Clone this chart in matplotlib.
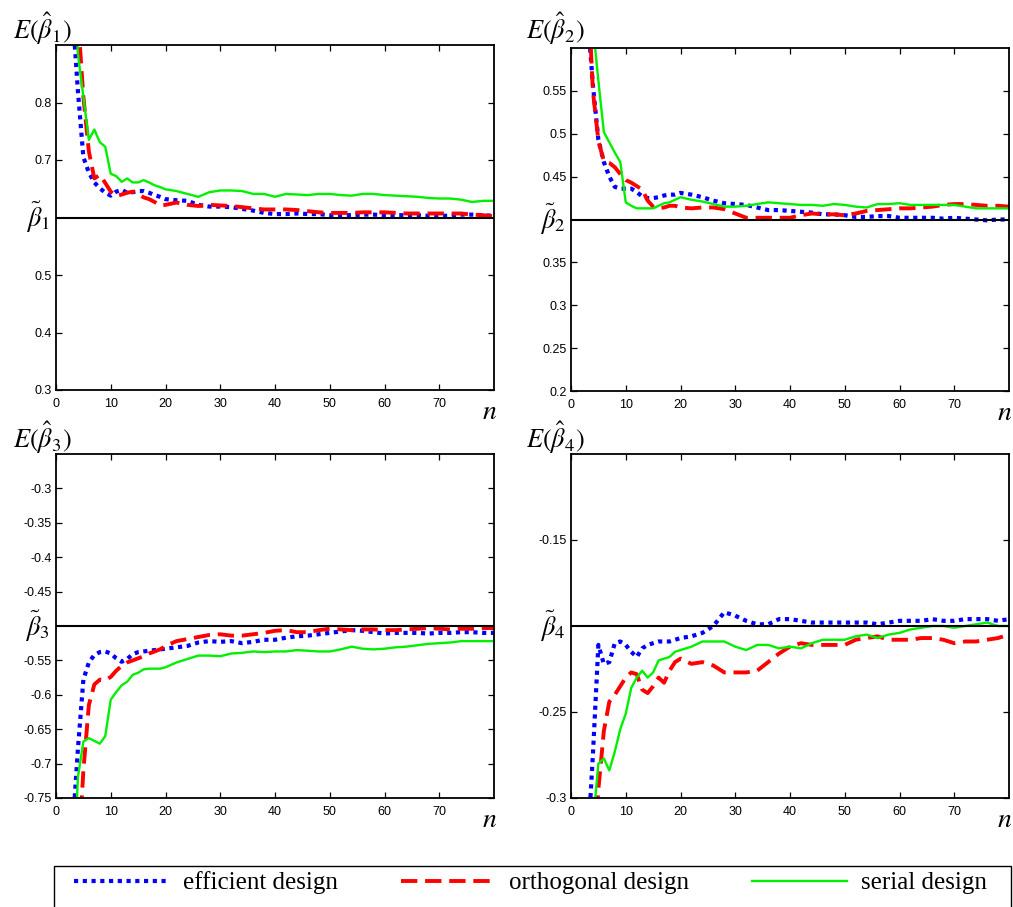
import matplotlib
matplotlib.use("Agg")
import matplotlib.pyplot as plt
from matplotlib.lines import Line2D
from matplotlib.patches import Rectangle
from matplotlib import transforms

plt.rcParams["font.family"] = ["Liberation Sans", "DejaVu Sans"]
plt.rcParams["mathtext.fontset"] = "stix"

# sample sizes n
n = [3, 4, 5, 6, 7, 8, 9, 10, 11, 12, 13, 14, 15, 16, 17, 18, 19, 20,
     22, 24, 26, 28, 30, 32, 34, 36, 38, 40, 42, 44, 46, 48, 50, 52, 54,
     56, 58, 60, 62, 64, 66, 68, 70, 72, 74, 76, 78, 80]

# E(beta_1)
b1_efficient = [0.96, 0.82, 0.705, 0.678, 0.661, 0.651, 0.643, 0.638, 0.645, 0.648, 0.643, 0.644,
                0.646, 0.646, 0.643, 0.639, 0.636, 0.632, 0.630, 0.629, 0.622, 0.619, 0.619, 0.618,
                0.615, 0.612, 0.608, 0.606, 0.606, 0.607, 0.606, 0.606, 0.604, 0.604, 0.604, 0.605,
                0.605, 0.604, 0.604, 0.604, 0.604, 0.603, 0.603, 0.603, 0.605, 0.605, 0.604, 0.603]
b1_orthogonal = [1.2, 0.95, 0.81, 0.715, 0.668, 0.674, 0.660, 0.645, 0.637, 0.640, 0.643, 0.645,
                 0.641, 0.635, 0.632, 0.627, 0.621, 0.622, 0.626, 0.622, 0.620, 0.622, 0.621, 0.620,
                 0.618, 0.616, 0.614, 0.614, 0.614, 0.613, 0.611, 0.609, 0.608, 0.608, 0.608, 0.609,
                 0.609, 0.609, 0.608, 0.607, 0.607, 0.607, 0.607, 0.607, 0.607, 0.605, 0.604, 0.602]
b1_serial = [1.1, 0.885, 0.81, 0.735, 0.753, 0.731, 0.723, 0.676, 0.672, 0.662, 0.668, 0.661,
             0.661, 0.665, 0.661, 0.656, 0.653, 0.649, 0.646, 0.641, 0.636, 0.644, 0.647, 0.647,
             0.646, 0.641, 0.641, 0.636, 0.641, 0.640, 0.639, 0.641, 0.641, 0.639, 0.638, 0.641,
             0.641, 0.639, 0.638, 0.637, 0.636, 0.634, 0.633, 0.633, 0.631, 0.627, 0.629, 0.629]

# E(beta_2)
b2_efficient = [0.64, 0.557, 0.493, 0.467, 0.450, 0.438, 0.436, 0.436, 0.436, 0.432, 0.427, 0.425,
                0.425, 0.426, 0.428, 0.429, 0.429, 0.431, 0.429, 0.426, 0.422, 0.419, 0.418, 0.417,
                0.414, 0.411, 0.411, 0.410, 0.409, 0.408, 0.406, 0.406, 0.405, 0.403, 0.403, 0.404,
                0.404, 0.402, 0.402, 0.402, 0.402, 0.401, 0.402, 0.401, 0.400, 0.399, 0.400, 0.400]
b2_orthogonal = [0.68, 0.55, 0.492, 0.468, 0.466, 0.461, 0.453, 0.446, 0.443, 0.439, 0.435, 0.422,
                 0.415, 0.413, 0.414, 0.416, 0.416, 0.414, 0.413, 0.414, 0.414, 0.412, 0.407, 0.402,
                 0.402, 0.402, 0.402, 0.402, 0.405, 0.407, 0.406, 0.406, 0.405, 0.407, 0.410, 0.411,
                 0.412, 0.413, 0.413, 0.414, 0.415, 0.417, 0.418, 0.418, 0.417, 0.416, 0.416, 0.415]
b2_serial = [0.72, 0.626, 0.562, 0.502, 0.490, 0.478, 0.467, 0.420, 0.416, 0.413, 0.413, 0.413,
             0.413, 0.416, 0.419, 0.420, 0.423, 0.426, 0.423, 0.421, 0.418, 0.415, 0.415, 0.416,
             0.418, 0.420, 0.419, 0.418, 0.417, 0.417, 0.416, 0.418, 0.417, 0.415, 0.414, 0.418,
             0.418, 0.419, 0.417, 0.417, 0.417, 0.417, 0.417, 0.415, 0.413, 0.413, 0.413, 0.413]

# E(beta_3)
b3_efficient = [-0.80, -0.679, -0.578, -0.553, -0.542, -0.538, -0.537, -0.540, -0.547, -0.552, -0.548, -0.541,
                -0.538, -0.537, -0.536, -0.535, -0.534, -0.533, -0.531, -0.529, -0.524, -0.522, -0.523, -0.522,
                -0.525, -0.523, -0.520, -0.520, -0.517, -0.515, -0.514, -0.512, -0.510, -0.508, -0.506, -0.507,
                -0.509, -0.511, -0.510, -0.510, -0.510, -0.511, -0.510, -0.510, -0.509, -0.509, -0.510, -0.510]
b3_orthogonal = [-1.0, -0.85, -0.71, -0.615, -0.585, -0.578, -0.579, -0.574, -0.565, -0.558, -0.553, -0.550,
                 -0.547, -0.544, -0.540, -0.537, -0.534, -0.529, -0.522, -0.519, -0.516, -0.513, -0.512, -0.514,
                 -0.514, -0.512, -0.510, -0.507, -0.506, -0.509, -0.509, -0.506, -0.504, -0.505, -0.506, -0.505,
                 -0.505, -0.506, -0.506, -0.505, -0.504, -0.503, -0.504, -0.505, -0.504, -0.504, -0.503, -0.503]
b3_serial = [-0.90, -0.72, -0.668, -0.663, -0.667, -0.671, -0.660, -0.607, -0.596, -0.586, -0.581, -0.571,
             -0.568, -0.563, -0.562, -0.562, -0.562, -0.560, -0.553, -0.548, -0.543, -0.543, -0.544, -0.540,
             -0.539, -0.537, -0.538, -0.537, -0.537, -0.535, -0.536, -0.537, -0.537, -0.534, -0.530, -0.533,
             -0.534, -0.533, -0.531, -0.530, -0.528, -0.526, -0.525, -0.524, -0.522, -0.522, -0.522, -0.522]

# E(beta_4)
b4_efficient = [-0.33, -0.275, -0.211, -0.222, -0.221, -0.210, -0.209, -0.211, -0.215, -0.218, -0.213, -0.211,
                -0.210, -0.209, -0.209, -0.209, -0.208, -0.207, -0.206, -0.204, -0.200, -0.192, -0.194, -0.197,
                -0.199, -0.199, -0.196, -0.196, -0.197, -0.198, -0.198, -0.198, -0.198, -0.198, -0.198, -0.199,
                -0.198, -0.197, -0.197, -0.197, -0.196, -0.197, -0.197, -0.196, -0.196, -0.196, -0.197, -0.196]
b4_orthogonal = [-0.42, -0.35, -0.295, -0.261, -0.244, -0.240, -0.235, -0.230, -0.227, -0.228, -0.237, -0.239,
                 -0.235, -0.230, -0.233, -0.226, -0.221, -0.219, -0.222, -0.221, -0.223, -0.227, -0.227, -0.227,
                 -0.226, -0.221, -0.216, -0.212, -0.210, -0.211, -0.211, -0.211, -0.211, -0.208, -0.207, -0.206,
                 -0.208, -0.208, -0.208, -0.207, -0.207, -0.208, -0.210, -0.209, -0.209, -0.208, -0.207, -0.205]
b4_serial = [-0.36, -0.315, -0.280, -0.277, -0.284, -0.273, -0.260, -0.251, -0.236, -0.230, -0.226, -0.230,
             -0.227, -0.220, -0.219, -0.218, -0.215, -0.214, -0.212, -0.209, -0.209, -0.209, -0.212, -0.214,
             -0.211, -0.211, -0.213, -0.212, -0.213, -0.210, -0.208, -0.208, -0.208, -0.206, -0.205, -0.207,
             -0.205, -0.204, -0.202, -0.201, -0.200, -0.200, -0.201, -0.200, -0.199, -0.198, -0.200, -0.200]

true_values = [0.6, 0.4, -0.5, -0.2]
y_limits = [(0.3, 0.9), (0.2, 0.6), (-0.75, -0.25), (-0.3, -0.1)]
y_ticks = [[0.3, 0.4, 0.5, 0.7, 0.8],
           [0.2, 0.25, 0.3, 0.35, 0.45, 0.5, 0.55],
           [-0.75, -0.7, -0.65, -0.6, -0.55, -0.45, -0.4, -0.35, -0.3],
           [-0.3, -0.25, -0.15]]
x_ticks = [0, 10, 20, 30, 40, 50, 60, 70]
series_labels = ["efficient design", "orthogonal design", "serial design"]

panels = [(b1_efficient, b1_orthogonal, b1_serial),
          (b2_efficient, b2_orthogonal, b2_serial),
          (b3_efficient, b3_orthogonal, b3_serial),
          (b4_efficient, b4_orthogonal, b4_serial)]

styles = [dict(color="#0000ff", lw=3.0, ls=(0, (1, 1.1))),
          dict(color="#ff0000", lw=2.8, ls=(0, (4.2, 2.0))),
          dict(color="#00f000", lw=1.7, ls="-")]

W, H = 1013, 907
fig = plt.figure(figsize=(W / 100, H / 100), dpi=100)

# axes boxes in pixels: left, top, right, bottom
boxes = [(56, 45, 494, 390), (571, 48, 1009, 391),
         (56, 454, 494, 798), (571, 454, 1009, 798)]
# E(...) label centres in pixels
elabel_pos = [(42, 29), (555, 29), (42, 438), (555, 438)]
n_label_x = [490, 1012]

for i, (l, t, r, b) in enumerate(boxes):
    ax = fig.add_axes([l / W, (H - b) / H, (r - l) / W, (b - t) / H])
    for data, st in zip(panels[i], styles):
        ax.plot(n, data, **st)
    ax.axhline(true_values[i], color="black", lw=1.5)
    ax.set_xlim(0, 80)
    ax.set_ylim(*y_limits[i])
    ax.set_xticks(x_ticks)
    ax.set_yticks(y_ticks[i])
    ax.set_yticklabels([f"{v:g}" for v in y_ticks[i]])
    ax.tick_params(direction="in", top=True, right=True, length=4, width=0.9,
                   labelsize=9)
    ax.tick_params(axis="x", pad=6)
    ax.tick_params(axis="y", pad=3)
    for s in ax.spines.values():
        s.set_linewidth(1.3)
    trans = transforms.blended_transform_factory(ax.transAxes, ax.transData)
    ax.text(-0.013, true_values[i], r"$\tilde{\beta}_%d$" % (i + 1), transform=trans,
            ha="right", va="center", fontsize=19)
    ex, ey = elabel_pos[i]
    fig.text(ex / W, (H - ey) / H, r"$E(\hat{\beta}_%d)$" % (i + 1),
             ha="center", va="center", fontsize=19)
    nx = n_label_x[i % 2]
    fig.text(nx / W, (H - (b + 22)) / H, r"$n$", ha="right" if i % 2 else "center",
             va="center", fontsize=20)

# legend frame (runs off the bottom edge as in the original)
fig.patches.append(Rectangle((54 / W, -0.05), (1011 - 54) / W, (H - 866) / H + 0.05,
                             transform=fig.transFigure, fill=False, ec="black",
                             lw=1.0, clip_on=False))
handles = [Line2D([], [], **st) for st in styles]
fig.legend(handles, series_labels, ncol=3, loc="center left",
           bbox_to_anchor=(64 / W, (H - 883) / H, (997 - 64) / W, 0), mode="expand",
           borderaxespad=0, frameon=False, handlelength=3.8, handletextpad=0.55,
           prop={"family": "Liberation Serif", "size": 18})

fig.savefig("out.png", dpi=100)
